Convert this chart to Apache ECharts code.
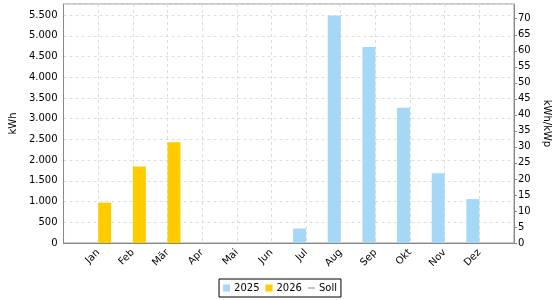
<!DOCTYPE html>
<html>
<head>
<meta charset="utf-8">
<script src="https://cdn.jsdelivr.net/npm/echarts@6/dist/echarts.min.js"></script>
<style>html,body{margin:0;padding:0;background:#fff;}#c{width:560px;height:300px;}</style>
</head>
<body>
<div id="c"></div>
<script>
const months = ['Jan', 'Feb', 'Mär', 'Apr', 'Mai', 'Jun', 'Jul', 'Aug', 'Sep', 'Okt', 'Nov', 'Dez'];
const values2025 = [null, null, null, null, null, null, 350, 5490, 4730, 3265, 1685, 1060];
const values2026 = [975, 1845, 2435, null, null, null, null, null, null, null, null, null];
const valuesSoll = [null, null, null, null, null, null, null, null, null, null, null, null];
const leftMax = 5770;
const rightMax = 74.6;

// pad one empty slot on each side of the months
const cats = [' '].concat(months, ['  ']);
const pad = arr => [null].concat(arr, [null]);

const font = 'DejaVu Sans';
const fmt = v => String(v).replace(/\B(?=(\d{3})+(?!\d))/g, '.');

const chart = echarts.init(document.getElementById('c'), null, {renderer: 'canvas'});
chart.setOption({
  animation: false,
  textStyle: {fontFamily: font},
  grid: {left: 61, right: 46, top: 4, bottom: 57, show: true, borderColor: '#999', borderWidth: 1, containLabel: false},
  legend: {
    top: 279, left: 'center',
    data: [
      {name: '2025', icon: 'rect'},
      {name: '2026', icon: 'rect'},
      {name: 'Soll', icon: 'path://M0,3 L8,3 L8,5 L0,5 Z', itemStyle: {color: '#bbb'}}
    ],
    itemWidth: 7, itemHeight: 7, itemGap: 6,
    borderColor: '#000', borderWidth: 1, borderRadius: 0, padding: [4, 4],
    textStyle: {fontFamily: font, fontSize: 10, color: '#000', padding: [0, 0, 0, -1]}
  },
  xAxis: {
    type: 'category', data: cats, boundaryGap: false,
    axisLine: {lineStyle: {color: '#888'}},
    axisTick: {show: false},
    axisLabel: {rotate: 45, fontFamily: font, fontSize: 10, color: '#000', margin: 8, interval: 0},
    splitLine: {show: true, interval: 0, lineStyle: {color: '#ddd', type: [3, 3]}}
  },
  yAxis: [{
    type: 'value', min: 0, max: leftMax, interval: 500, position: 'left',
    name: 'kWh', nameLocation: 'middle', nameGap: 34,
    nameTextStyle: {fontFamily: font, fontSize: 10, color: '#000'},
    axisLine: {show: true, lineStyle: {color: '#888'}},
    axisTick: {show: false},
    axisLabel: {fontFamily: font, fontSize: 10, color: '#000', margin: 6, showMaxLabel: false, formatter: fmt},
    splitLine: {show: true, lineStyle: {color: '#ddd', type: [3, 3]}}
  }, {
    type: 'value', min: 0, max: rightMax, interval: 5, position: 'right',
    name: 'kWh/kWp', nameLocation: 'middle', nameGap: 17, nameRotate: -90,
    nameTextStyle: {fontFamily: font, fontSize: 10, color: '#000'},
    axisLine: {show: true, lineStyle: {color: '#888'}},
    axisTick: {show: true, length: 3, lineStyle: {color: '#888'}},
    axisLabel: {fontFamily: font, fontSize: 10, color: '#000', margin: 4, showMaxLabel: false},
    splitLine: {show: false}
  }],
  series: [{
    name: '2025', type: 'bar', yAxisIndex: 0, data: pad(values2025),
    barWidth: 13, barGap: '0%',
    itemStyle: {color: '#a6d8f6'}
  }, {
    name: '2026', type: 'bar', yAxisIndex: 0, data: pad(values2026),
    barWidth: 13, barGap: '0%',
    itemStyle: {color: '#ffcc00'}
  }, {
    name: 'Soll', type: 'line', yAxisIndex: 1, data: pad(valuesSoll),
    symbol: 'none', lineStyle: {color: '#bbb', width: 2}, itemStyle: {color: '#bbb'}
  }]
});
</script>
</body>
</html>
